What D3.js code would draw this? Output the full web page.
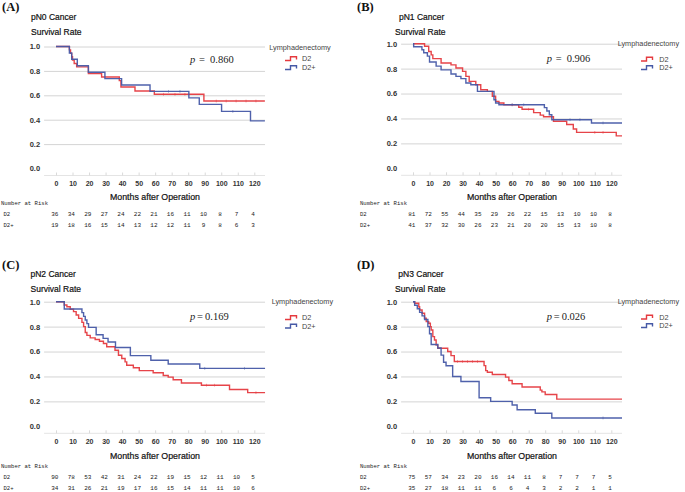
<!DOCTYPE html>
<html>
<head>
<meta charset="utf-8">
<script src="https://cdn.jsdelivr.net/npm/d3@7"></script>
<style>
  body { margin: 0; background: #fff; }
  svg { display: block; }
</style>
</head>
<body>
<div id="root"></div>
<script>
// ---- data ----
const monthTicks = [0, 10, 20, 30, 40, 50, 60, 70, 80, 90, 100, 110, 120];
const survTicks = [0, 0.2, 0.4, 0.6, 0.8, 1.0];
const groupNames = ["D2", "D2+"];
const panelLetters = ["(A)", "(B)", "(C)", "(D)"];
const panelTitles = ["pN0 Cancer", "pN1 Cancer", "pN2 Cancer", "pN3 Cancer"];
const pValues = ["0.860", "0.906", "0.169", "0.026"];

// [month, survival] steps
const pN0_D2 = [[0,1],[8.1,0.972],[8.8,0.944],[9.5,0.917],[10,0.889],[11,0.861],[12.5,0.833],[19.6,0.778],[27.6,0.75],[38.3,0.72],[39.3,0.668],[47.8,0.635],[59.5,0.608],[89.5,0.553],[126.4,0.553]];
const pN0_D2p = [[0,1],[8.1,0.947],[9.5,0.895],[12.9,0.842],[19.6,0.789],[29.6,0.737],[39.7,0.684],[56.9,0.632],[80.4,0.579],[86.7,0.526],[100.2,0.468],[117.7,0.39],[126.4,0.39]];
const pN1_D2 = [[0,1],[7,0.979],[9.5,0.938],[11,0.91],[12,0.88],[17,0.845],[23,0.83],[26,0.805],[30,0.778],[32,0.738],[34,0.698],[38,0.67],[41,0.63],[45,0.617],[48,0.578],[50,0.537],[52,0.524],[55,0.51],[64,0.49],[66,0.474],[73,0.447],[77,0.427],[79,0.414],[85,0.378],[93,0.351],[97,0.315],[99,0.288],[123,0.26],[126.5,0.26]];
const pN1_D2p = [[0,1],[0.4,0.976],[5.4,0.951],[6.5,0.927],[8.7,0.9],[10,0.853],[14,0.82],[17,0.79],[23,0.757],[26,0.738],[29,0.72],[32,0.684],[35,0.67],[39,0.617],[49,0.55],[50,0.524],[52,0.51],[79.5,0.487],[81,0.46],[82.5,0.43],[84,0.39],[108,0.364],[126.5,0.364]];
const pN2_D2 = [[0,1],[5,0.973],[6.6,0.96],[8.6,0.94],[10.6,0.92],[12.2,0.893],[13.7,0.866],[15.7,0.834],[16.7,0.8],[17.7,0.753],[18.7,0.73],[20.7,0.71],[23.7,0.697],[26.3,0.683],[28.7,0.664],[30.7,0.638],[35.7,0.61],[37.8,0.57],[39.8,0.544],[41.8,0.517],[42.8,0.49],[46.8,0.47],[50.4,0.447],[58.8,0.43],[64.9,0.408],[67.9,0.395],[70.9,0.374],[75.9,0.347],[88,0.33],[105,0.295],[116,0.27],[126.5,0.27]];
const pN2_D2p = [[0,1],[5,0.941],[15.7,0.912],[16.7,0.882],[17.7,0.853],[18.7,0.824],[19.7,0.794],[24.3,0.735],[28.5,0.706],[31.5,0.676],[36,0.632],[45,0.567],[57.4,0.53],[67.9,0.5],[87,0.465],[126.5,0.465]];
const pN3_D2 = [[0,1],[1,0.987],[3.5,0.96],[4,0.933],[5.5,0.907],[7,0.867],[8,0.84],[9.5,0.827],[10.5,0.8],[11,0.773],[12,0.72],[13,0.693],[14,0.653],[15,0.627],[21,0.6],[23,0.567],[25,0.52],[43,0.487],[44,0.447],[45,0.434],[48,0.416],[56,0.395],[58,0.368],[60,0.342],[66,0.316],[77,0.29],[78,0.276],[80,0.255],[87,0.218],[126.5,0.218]];
const pN3_D2p = [[0,1],[1,0.971],[2.6,0.943],[4,0.914],[5.5,0.886],[7,0.857],[9,0.8],[10,0.743],[11,0.657],[15,0.629],[17,0.571],[18.5,0.514],[20,0.486],[24,0.4],[29,0.36],[40,0.229],[47,0.2],[60,0.171],[63,0.133],[74,0.105],[84,0.067],[126.5,0.067]];

// censored times (small tick marks)
const pN0_D2_cens = [65, 72, 78, 97, 103, 109, 115, 121];
const pN0_D2p_cens = [68, 75, 107];
const pN1_D2_cens = [60, 70, 110, 115];
const pN1_D2p_cens = [60, 67, 95, 101, 115];
const pN2_D2_cens = [91, 96, 121];
const pN2_D2p_cens = [90, 114];
const pN3_D2_cens = [27, 30, 33, 36, 39];
const pN3_D2p_cens = [115];

// number at risk
const pN0_riskD2 = [36, 34, 29, 27, 24, 22, 21, 16, 11, 10, 8, 7, 4];
const pN0_riskD2p = [19, 18, 16, 15, 14, 13, 12, 12, 11, 9, 8, 6, 3];
const pN1_riskD2 = [81, 72, 55, 44, 35, 29, 26, 22, 15, 13, 10, 10, 8];
const pN1_riskD2p = [41, 37, 32, 30, 26, 23, 21, 20, 20, 15, 13, 10, 8];
const pN2_riskD2 = [90, 78, 53, 42, 31, 24, 22, 19, 15, 12, 11, 10, 5];
const pN2_riskD2p = [34, 31, 26, 21, 19, 17, 16, 15, 14, 11, 11, 10, 6];
const pN3_riskD2 = [75, 57, 34, 23, 20, 16, 14, 11, 8, 7, 7, 7, 5];
const pN3_riskD2p = [35, 27, 18, 11, 11, 6, 6, 4, 3, 2, 2, 1, 1];

const panels = [
  { series: [pN0_D2, pN0_D2p], cens: [pN0_D2_cens, pN0_D2p_cens], risk: [pN0_riskD2, pN0_riskD2p] },
  { series: [pN1_D2, pN1_D2p], cens: [pN1_D2_cens, pN1_D2p_cens], risk: [pN1_riskD2, pN1_riskD2p] },
  { series: [pN2_D2, pN2_D2p], cens: [pN2_D2_cens, pN2_D2p_cens], risk: [pN2_riskD2, pN2_riskD2p] },
  { series: [pN3_D2, pN3_D2p], cens: [pN3_D2_cens, pN3_D2p_cens], risk: [pN3_riskD2, pN3_riskD2p] },
];

// ---- layout ----
const colors = ["#e53a3f", "#4659a6"];
const sans = "'Liberation Sans', Arial, sans-serif";
const serif = "'Liberation Serif', 'Times New Roman', serif";
const mono = "'Liberation Mono', 'DejaVu Sans Mono', monospace";

const layouts = [
  { ox: 0,   y1: 46.5,  y0: 168.5, letter: [2, 11],    title: [31, 19.5],    surv: [31, 34.5],    p: [190, 62.5, 9, 20],   leg: [269.3, 49.5, 285, 302, 11.5, 20.5], foot: [31.5, 36, 47, 58.5],   nar: [1, 3.5] },
  { ox: 357, y1: 43.7,  y0: 168.3, letter: [357, 11],  title: [399, 19.5],   surv: [395, 34.5],   p: [546.7, 62, 9, 20],   leg: [617.7, 46.3, 641, 659.3, 15.2, 23.7], foot: [32, 36.2, 47.2, 58.7], nar: [360, 360] },
  { ox: 0,   y1: 301.7, y0: 426.3, letter: [2, 268.5], title: [30.5, 277.3], surv: [30.5, 291.7], p: [190, 320, 7, 15],    leg: [271.7, 304, 285, 302, 16, 24.5],   foot: [32.5, 41.3, 52.2, 63.2], nar: [1, 3.5] },
  { ox: 357, y1: 301.7, y0: 426.3, letter: [357, 268.5], title: [398.3, 277.3], surv: [395, 291.7], p: [546.7, 320, 7, 15], leg: [617.7, 304, 641, 659.3, 15.5, 24],  foot: [32.5, 41.3, 52.2, 63.2], nar: [360, 360] },
];

const svg = d3.select("#root").append("svg")
  .attr("width", 685)
  .attr("height", 492);

const stepAt = (data, t) => {
  let s = data[0][1];
  data.forEach(d => { if (d[0] <= t) s = d[1]; });
  return s;
};

panels.forEach((pn, i) => {
  const L = layouts[i];
  const g = svg.append("g");

  const x = d3.scaleLinear().domain([0, 120]).range([L.ox + 56, L.ox + 254.3]);
  const y = d3.scaleLinear().domain([0, 1]).range([L.y0, L.y1]);
  const gx0 = x(-7.2), gx1 = x(126.5);

  // panel letter + titles
  g.append("text").attr("x", L.letter[0]).attr("y", L.letter[1])
    .attr("font-family", serif).attr("font-weight", "bold").attr("font-size", 12.5)
    .attr("fill", "#111").text(panelLetters[i]);
  g.append("text").attr("x", L.title[0]).attr("y", L.title[1])
    .attr("font-family", sans).attr("font-size", 8.5).attr("fill", "#111")
    .attr("stroke", "#111").attr("stroke-width", 0.2).text(panelTitles[i]);
  g.append("text").attr("x", L.surv[0]).attr("y", L.surv[1])
    .attr("font-family", sans).attr("font-size", 8.5).attr("fill", "#111")
    .attr("stroke", "#111").attr("stroke-width", 0.2).text("Survival Rate");

  // y grid + labels
  const ya = g.append("g")
    .attr("transform", `translate(${gx0},0)`)
    .call(d3.axisLeft(y)
      .tickValues(survTicks)
      .tickFormat(d3.format(".1f"))
      .tickSize(-(gx1 - gx0))
      .tickPadding(4));
  ya.select(".domain").remove();
  ya.selectAll(".tick line").attr("stroke", "#d4d4d4").attr("stroke-width", 1);
  ya.selectAll(".tick").filter(d => d === 0).select("line").remove();
  ya.selectAll(".tick text")
    .attr("font-family", sans).attr("font-weight", "bold").attr("font-size", 7.5).attr("fill", "#333");

  // x axis
  const xa = g.append("g")
    .attr("transform", `translate(0,${L.y0 + 7})`)
    .call(d3.axisBottom(x)
      .tickValues(monthTicks)
      .tickSize(-3)
      .tickPadding(6));
  xa.select(".domain").attr("d", `M${gx0},0H${gx1}`).attr("stroke", "#e4e4e4");
  xa.selectAll(".tick line").attr("stroke", "#dadada");
  xa.selectAll(".tick text")
    .attr("font-family", sans).attr("font-weight", "bold").attr("font-size", 7).attr("fill", "#333");

  g.append("text")
    .attr("x", L.ox + 155).attr("y", L.y0 + L.foot[0])
    .attr("text-anchor", "middle")
    .attr("font-family", sans).attr("font-size", 8.8).attr("fill", "#111")
    .attr("stroke", "#111").attr("stroke-width", 0.2)
    .text("Months after Operation");

  // survival curves
  const line = d3.line()
    .x(d => x(d[0]))
    .y(d => y(d[1]))
    .curve(d3.curveStepAfter);

  pn.series.forEach((s, k) => {
    g.append("path")
      .datum(s)
      .attr("d", line)
      .attr("fill", "none")
      .attr("stroke", colors[k])
      .attr("stroke-width", 1.4)
      .attr("opacity", 0.95);

    g.selectAll(null)
      .data(pn.cens[k])
      .enter()
      .append("line")
      .attr("x1", d => x(d)).attr("x2", d => x(d))
      .attr("y1", d => y(stepAt(s, d)) - 1.4)
      .attr("y2", d => y(stepAt(s, d)) + 1.4)
      .attr("stroke", colors[k])
      .attr("stroke-width", 0.6)
      .attr("opacity", 0.8);
  });

  // p value
  const pt = g.append("text")
    .attr("y", L.p[1])
    .attr("font-family", serif).attr("font-size", 10.5).attr("fill", "#222");
  pt.append("tspan").attr("x", L.p[0]).attr("font-style", "italic").text("p");
  pt.append("tspan").attr("x", L.p[0] + L.p[2]).text("=");
  pt.append("tspan").attr("x", L.p[0] + L.p[3]).text(pValues[i]);

  // legend
  g.append("text").attr("x", L.leg[0]).attr("y", L.leg[1])
    .attr("font-family", sans).attr("font-size", 7.3).attr("fill", "#444")
    .text("Lymphadenectomy");
  groupNames.forEach((name, k) => {
    const by = L.leg[1] + L.leg[4 + k];
    const sx = L.leg[2];
    g.append("path")
      .attr("d", `M${sx},${by - 0.5}H${sx + 5.5}V${by - 4.2}H${sx + 11.5}V${by - 1.5}`)
      .attr("fill", "none").attr("stroke", colors[k]).attr("stroke-width", 1.4);
    g.append("text").attr("x", L.leg[3]).attr("y", by)
      .attr("font-family", sans).attr("font-size", 7.3).attr("fill", "#444")
      .text(name);
  });

  // number at risk table
  g.append("text").attr("x", L.nar[0]).attr("y", L.y0 + L.foot[1])
    .attr("font-family", mono).attr("font-size", 5.6).attr("fill", "#222")
    .text("Number at Risk");
  pn.risk.forEach((row, k) => {
    const ry = L.y0 + L.foot[2 + k];
    g.append("text").attr("x", L.nar[1]).attr("y", ry)
      .attr("font-family", mono).attr("font-size", 5.6).attr("fill", "#222")
      .text(groupNames[k]);
    g.selectAll(null)
      .data(row)
      .enter()
      .append("text")
      .attr("x", (d, j) => x(monthTicks[j]) - 1.2)
      .attr("y", ry)
      .attr("text-anchor", "middle")
      .attr("font-family", mono).attr("font-size", 6).attr("fill", "#222")
      .text(d => d);
  });
});
</script>
</body>
</html>
